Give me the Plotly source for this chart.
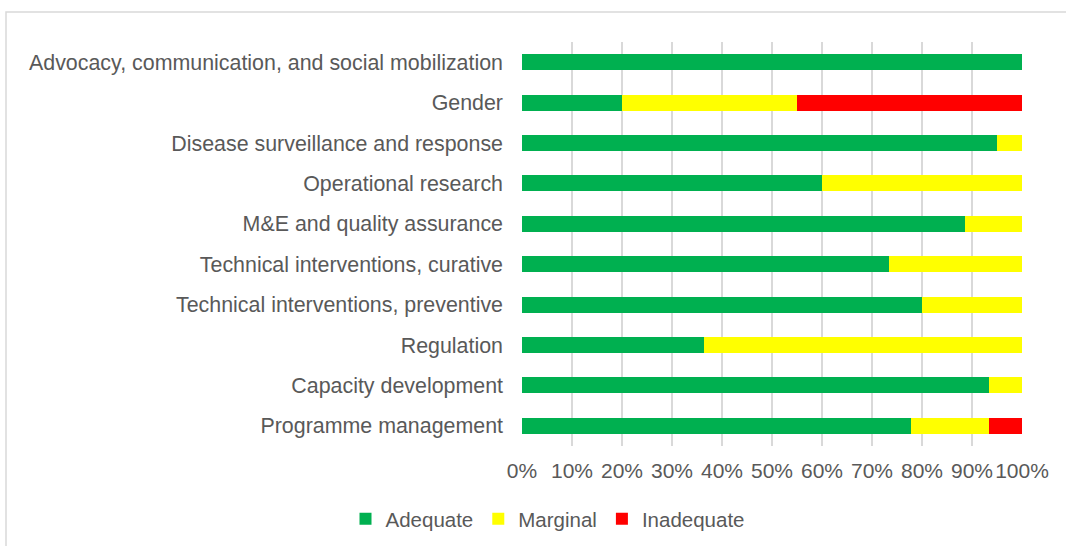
import plotly.graph_objects as go

categories = [
    "Advocacy, communication, and social mobilization",
    "Gender",
    "Disease surveillance and response",
    "Operational research",
    "M&E and quality assurance",
    "Technical interventions, curative",
    "Technical interventions, preventive",
    "Regulation",
    "Capacity development",
    "Programme management",
]
adequate = [100, 20, 95, 60, 88.5, 73.3, 80, 36.4, 93.3, 77.7]
marginal = [0, 35, 5, 40, 11.5, 26.7, 20, 63.6, 6.7, 15.6]
inadequate = [0, 45, 0, 0, 0, 0, 0, 0, 0, 6.7]

tick_vals = [0, 10, 20, 30, 40, 50, 60, 70, 80, 90, 100]
tick_text = [f"{v}%" for v in tick_vals]

series = [("Adequate", adequate, "#00B050"),
          ("Marginal", marginal, "#FFFF00"),
          ("Inadequate", inadequate, "#FF0000")]

fig = go.Figure()
for name, vals, col in series:
    fig.add_trace(go.Bar(y=categories, x=vals, name=name, orientation="h",
                         marker=dict(color=col, line=dict(width=0))))

W, H = 1066, 546
L, R, T, B = 522, 44, 42, 100
pw, ph = W - L - R, H - T - B

fig.update_layout(
    width=W, height=H, barmode="stack", bargap=0.6,
    margin=dict(l=L, r=R, t=T, b=B, autoexpand=False),
    paper_bgcolor="white", plot_bgcolor="white",
    font=dict(family="Liberation Sans, Arial, sans-serif", size=21.4, color="#595959"),
    showlegend=True,
    legend=dict(orientation="h", x=(548 - L) / pw, xanchor="center",
                y=(T + ph - 519) / ph, yanchor="middle",
                font=dict(size=20.5, color="#595959"), itemwidth=30,
                traceorder="normal", tracegroupgap=0),
    xaxis=dict(range=[0, 100], tickvals=tick_vals, ticktext=tick_text,
               tickangle=0, tickfont=dict(size=21),
               showgrid=True, gridcolor="#D9D9D9", gridwidth=1.6,
               zeroline=False, showline=False, ticks="",
               ticklabelstandoff=10, fixedrange=True),
    yaxis=dict(autorange="reversed", showgrid=False, zeroline=False,
               showline=False, ticks="", ticklabelstandoff=18),
    shapes=[dict(type="rect", xref="paper", yref="paper",
                 x0=(6 - L) / pw, x1=(W + 20 - L) / pw,
                 y0=(T + ph - (H + 20)) / ph, y1=(T + ph - 12) / ph,
                 line=dict(color="#D9D9D9", width=1.5), fillcolor="rgba(0,0,0,0)",
                 layer="below")],
)

fig.write_html("out.html", config={"displayModeBar": False},
               post_script="document.body.style.margin='0';document.body.style.overflow='hidden';")
